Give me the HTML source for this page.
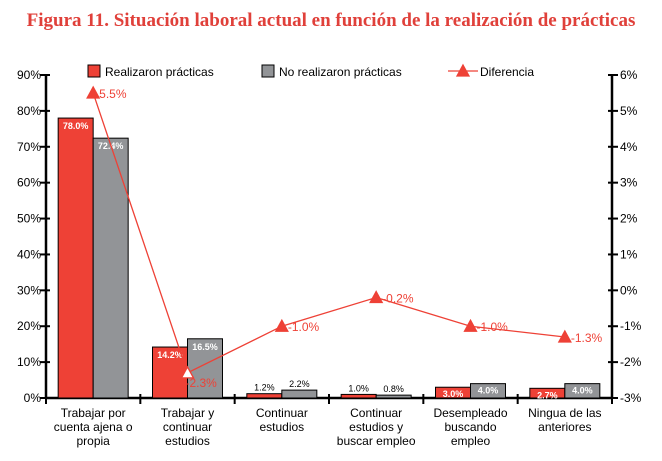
<!DOCTYPE html>
<html><head><meta charset="utf-8"><style>
body{margin:0;background:#fff;width:662px;height:456px;overflow:hidden}
svg{font-family:"Liberation Sans",sans-serif}
</style></head><body>
<svg width="662" height="456">
<text x="331" y="26" text-anchor="middle" font-family="Liberation Serif" font-weight="bold" font-size="19" fill="#e0403a">Figura 11. Situación laboral actual en función de la realización de prácticas</text>
<g id="axes"></g><g id="bars"></g><g id="line"></g><g id="legend"></g>
</svg>
<script>
const categories=[["Trabajar por","cuenta ajena o","propia"],["Trabajar y","continuar","estudios"],["Continuar","estudios"],["Continuar","estudios y","buscar empleo"],["Desempleado","buscando","empleo"],["Ningua de las","anteriores"]];
const realizaron=[78.0,14.2,1.2,1.0,3.0,2.7];
const noRealizaron=[72.4,16.5,2.2,0.8,4.0,4.0];
const diferencia=[5.5,-2.3,-1.0,-0.2,-1.0,-1.3];
const leftTicks=[0,10,20,30,40,50,60,70,80,90];
const rightTicks=[-3,-2,-1,0,1,2,3,4,5,6];
const NS="http://www.w3.org/2000/svg";
const X0=46,X1=612,Y0=398,Y1=75;
const cw=(X1-X0)/categories.length;
const yL=v=>Y0-(v/90)*(Y0-Y1);
const yR=v=>Y0-((v+3)/9)*(Y0-Y1);
const xc=i=>X0+cw*(i+0.5);
function mk(tag,attrs,parent,txt){const e=document.createElementNS(NS,tag);for(const k in attrs)e.setAttribute(k,attrs[k]);if(txt!==undefined)e.textContent=txt;parent.appendChild(e);return e;}
const ax=document.getElementById('axes');
let e=mk('line',{x1:X0,y1:Y1,x2:X0,y2:Y0,stroke:'#000','stroke-width':2.5},ax);

e=mk('line',{x1:X1,y1:Y1,x2:X1,y2:Y0,stroke:'#000','stroke-width':2.5},ax);

e=mk('line',{x1:X0,y1:Y0,x2:X1,y2:Y0,stroke:'#000','stroke-width':2.5},ax);

leftTicks.forEach(v=>{const y=yL(v);mk('line',{x1:X0-6,y1:y,x2:X0+4,y2:y,stroke:'#000','stroke-width':2},ax);
e=mk('text',{x:X0-5,y:y+4,'text-anchor':'end','font-size':12},ax,v+'%');
});
rightTicks.forEach(v=>{const y=yR(v);mk('line',{x1:X1-4,y1:y,x2:X1+6,y2:y,stroke:'#000','stroke-width':2},ax);
e=mk('text',{x:X1+8,y:y+4,'font-size':12},ax,v+'%');
});
for(let i=0;i<=categories.length;i++){mk('line',{x1:X0+cw*i,y1:Y0-4,x2:X0+cw*i,y2:Y0+6,stroke:'#000','stroke-width':2},ax);}
categories.forEach((c,i)=>{c.forEach((t,j)=>{e=mk('text',{x:xc(i),y:Y0+19+j*14,'text-anchor':'middle','font-size':12},ax,t);
});});
const bg=document.getElementById('bars');const bw=35;
function bar(i,v,off,fill,name){const y=yL(v);
e=mk('rect',{x:xc(i)+off,y:y,width:bw,height:Y0-y,fill:fill,stroke:'#000','stroke-width':1},bg);

const big=v>2.5;const inside=v>5;
e=mk('text',{x:xc(i)+off+bw/2,y:inside?y+11:(big?y+10:y-3),'text-anchor':'middle','font-size':9,fill:(big||inside)?'#fff':'#000','font-weight':big?'bold':'normal'},bg,v.toFixed(1)+'%');
}
realizaron.forEach((v,i)=>bar(i,v,-bw,'#ee4136','bar-realizaron'));
noRealizaron.forEach((v,i)=>bar(i,v,0,'#929497','bar-no-realizaron'));
const lg=document.getElementById('line');
e=mk('polyline',{points:diferencia.map((v,i)=>xc(i)+','+yR(v)).join(' '),fill:'none',stroke:'#ee4136','stroke-width':1.3},lg);

function tri(x,y,fill,p){return mk('polygon',{points:`${x},${y-6} ${x+6},${y+5} ${x-6},${y+5}`,fill:fill,stroke:'#ee4136','stroke-width':1.3},p);}
diferencia.forEach((v,i)=>{const x=xc(i),y=yR(v);
e=tri(x,y,i===1?'#fff':'#ee4136',lg);

e=mk('text',{x:x+(i===1?-2:6),y:i===1?y+14:y+5,'font-size':12,fill:'#ee4136'},lg,v.toFixed(1)+'%');
});
const leg=document.getElementById('legend');
e=mk('rect',{x:88,y:65,width:12,height:12,fill:'#ee4136',stroke:'#000'},leg);

e=mk('text',{x:105,y:76,'font-size':12},leg,'Realizaron prácticas');

e=mk('rect',{x:262,y:65,width:12,height:12,fill:'#929497',stroke:'#000'},leg);

e=mk('text',{x:279,y:76,'font-size':12},leg,'No realizaron prácticas');

e=mk('line',{x1:448,y1:71,x2:478,y2:71,stroke:'#ee4136','stroke-width':1.3},leg);

tri(463,71,'#ee4136',leg);
e=mk('text',{x:480,y:76,'font-size':12},leg,'Diferencia');

</script>
</body></html>
